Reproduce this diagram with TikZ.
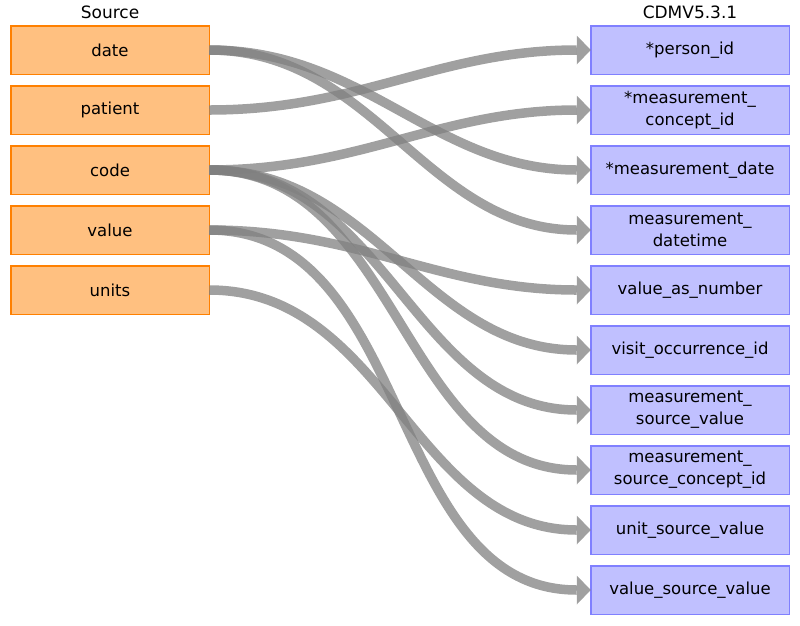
\documentclass[tikz,border=0pt]{standalone}
\usepackage{fontspec}
\setmainfont{DejaVu Sans}
\usetikzlibrary{arrows.meta, positioning}
\definecolor{srcFill}{HTML}{FFC080}
\definecolor{srcLine}{HTML}{FF8000}
\definecolor{cdmFill}{HTML}{C0C0FF}
\definecolor{cdmLine}{HTML}{8080FF}
\definecolor{linkGray}{HTML}{808080}
\tikzset{
  srcbox/.style={rectangle, draw=srcLine, fill=srcFill, line width=1.5pt,
                 minimum width=198.5pt, minimum height=48.5pt, inner sep=2pt,
                 outer sep=0pt, align=center, font=\fontsize{16.5}{22}\selectfont},
  cdmbox/.style={rectangle, draw=cdmLine, fill=cdmFill, line width=1.5pt,
                 minimum width=198.5pt, minimum height=48.5pt, inner sep=2pt,
                 outer sep=0pt, align=center, font=\fontsize{16.5}{22}\selectfont},
  hdr/.style={inner sep=0pt, font=\fontsize{17}{20}\selectfont},
  link/.style={line width=9.5pt, draw=linkGray, opacity=0.75,
               -{Triangle[length=14pt, width=29pt, line width=0pt]},
               out=0, in=180},
}
\begin{document}
\begin{tikzpicture}[x=1pt, y=1pt, node distance=11.5pt]
    \useasboundingbox (0,0) rectangle (800,-625);
    % source columns
    \node[hdr] (srchdr) at (110,-12) {Source};
    \node[srcbox] (date) at (110,-50) {date};
    \node[srcbox, below=of date]    (patient) {patient};
    \node[srcbox, below=of patient] (code)    {code};
    \node[srcbox, below=of code]    (value)   {value};
    \node[srcbox, below=of value]   (units)   {units};
    % CDM fields
    \node[hdr] (cdmhdr) at (690,-12) {CDMV5.3.1};
    \node[cdmbox] (pid) at (690,-50) {*person\_id};
    \node[cdmbox, below=of pid]   (mcid)  {*measurement\_\\concept\_id};
    \node[cdmbox, below=of mcid]  (mdate) {*measurement\_date};
    \node[cdmbox, below=of mdate] (mdt)   {measurement\_\\datetime};
    \node[cdmbox, below=of mdt]   (van)   {value\_as\_number};
    \node[cdmbox, below=of van]   (void)  {visit\_occurrence\_id};
    \node[cdmbox, below=of void]  (msv)   {measurement\_\\source\_value};
    \node[cdmbox, below=of msv]   (mscid) {measurement\_\\source\_concept\_id};
    \node[cdmbox, below=of mscid] (usv)   {unit\_source\_value};
    \node[cdmbox, below=of usv]   (vsv)   {value\_source\_value};
    % mappings
    \draw[link] (date.east) to (mdate.west); \draw[link] (date.east) to (mdt.west);
    \draw[link] (patient.east) to (pid.west);
    \draw[link] (code.east) to (mcid.west); \draw[link] (code.east) to (void.west);
    \draw[link] (code.east) to (msv.west); \draw[link] (code.east) to (mscid.west);
    \draw[link] (value.east) to (van.west); \draw[link] (value.east) to (vsv.west);
    \draw[link] (units.east) to (usv.west);
\end{tikzpicture}
\end{document}
